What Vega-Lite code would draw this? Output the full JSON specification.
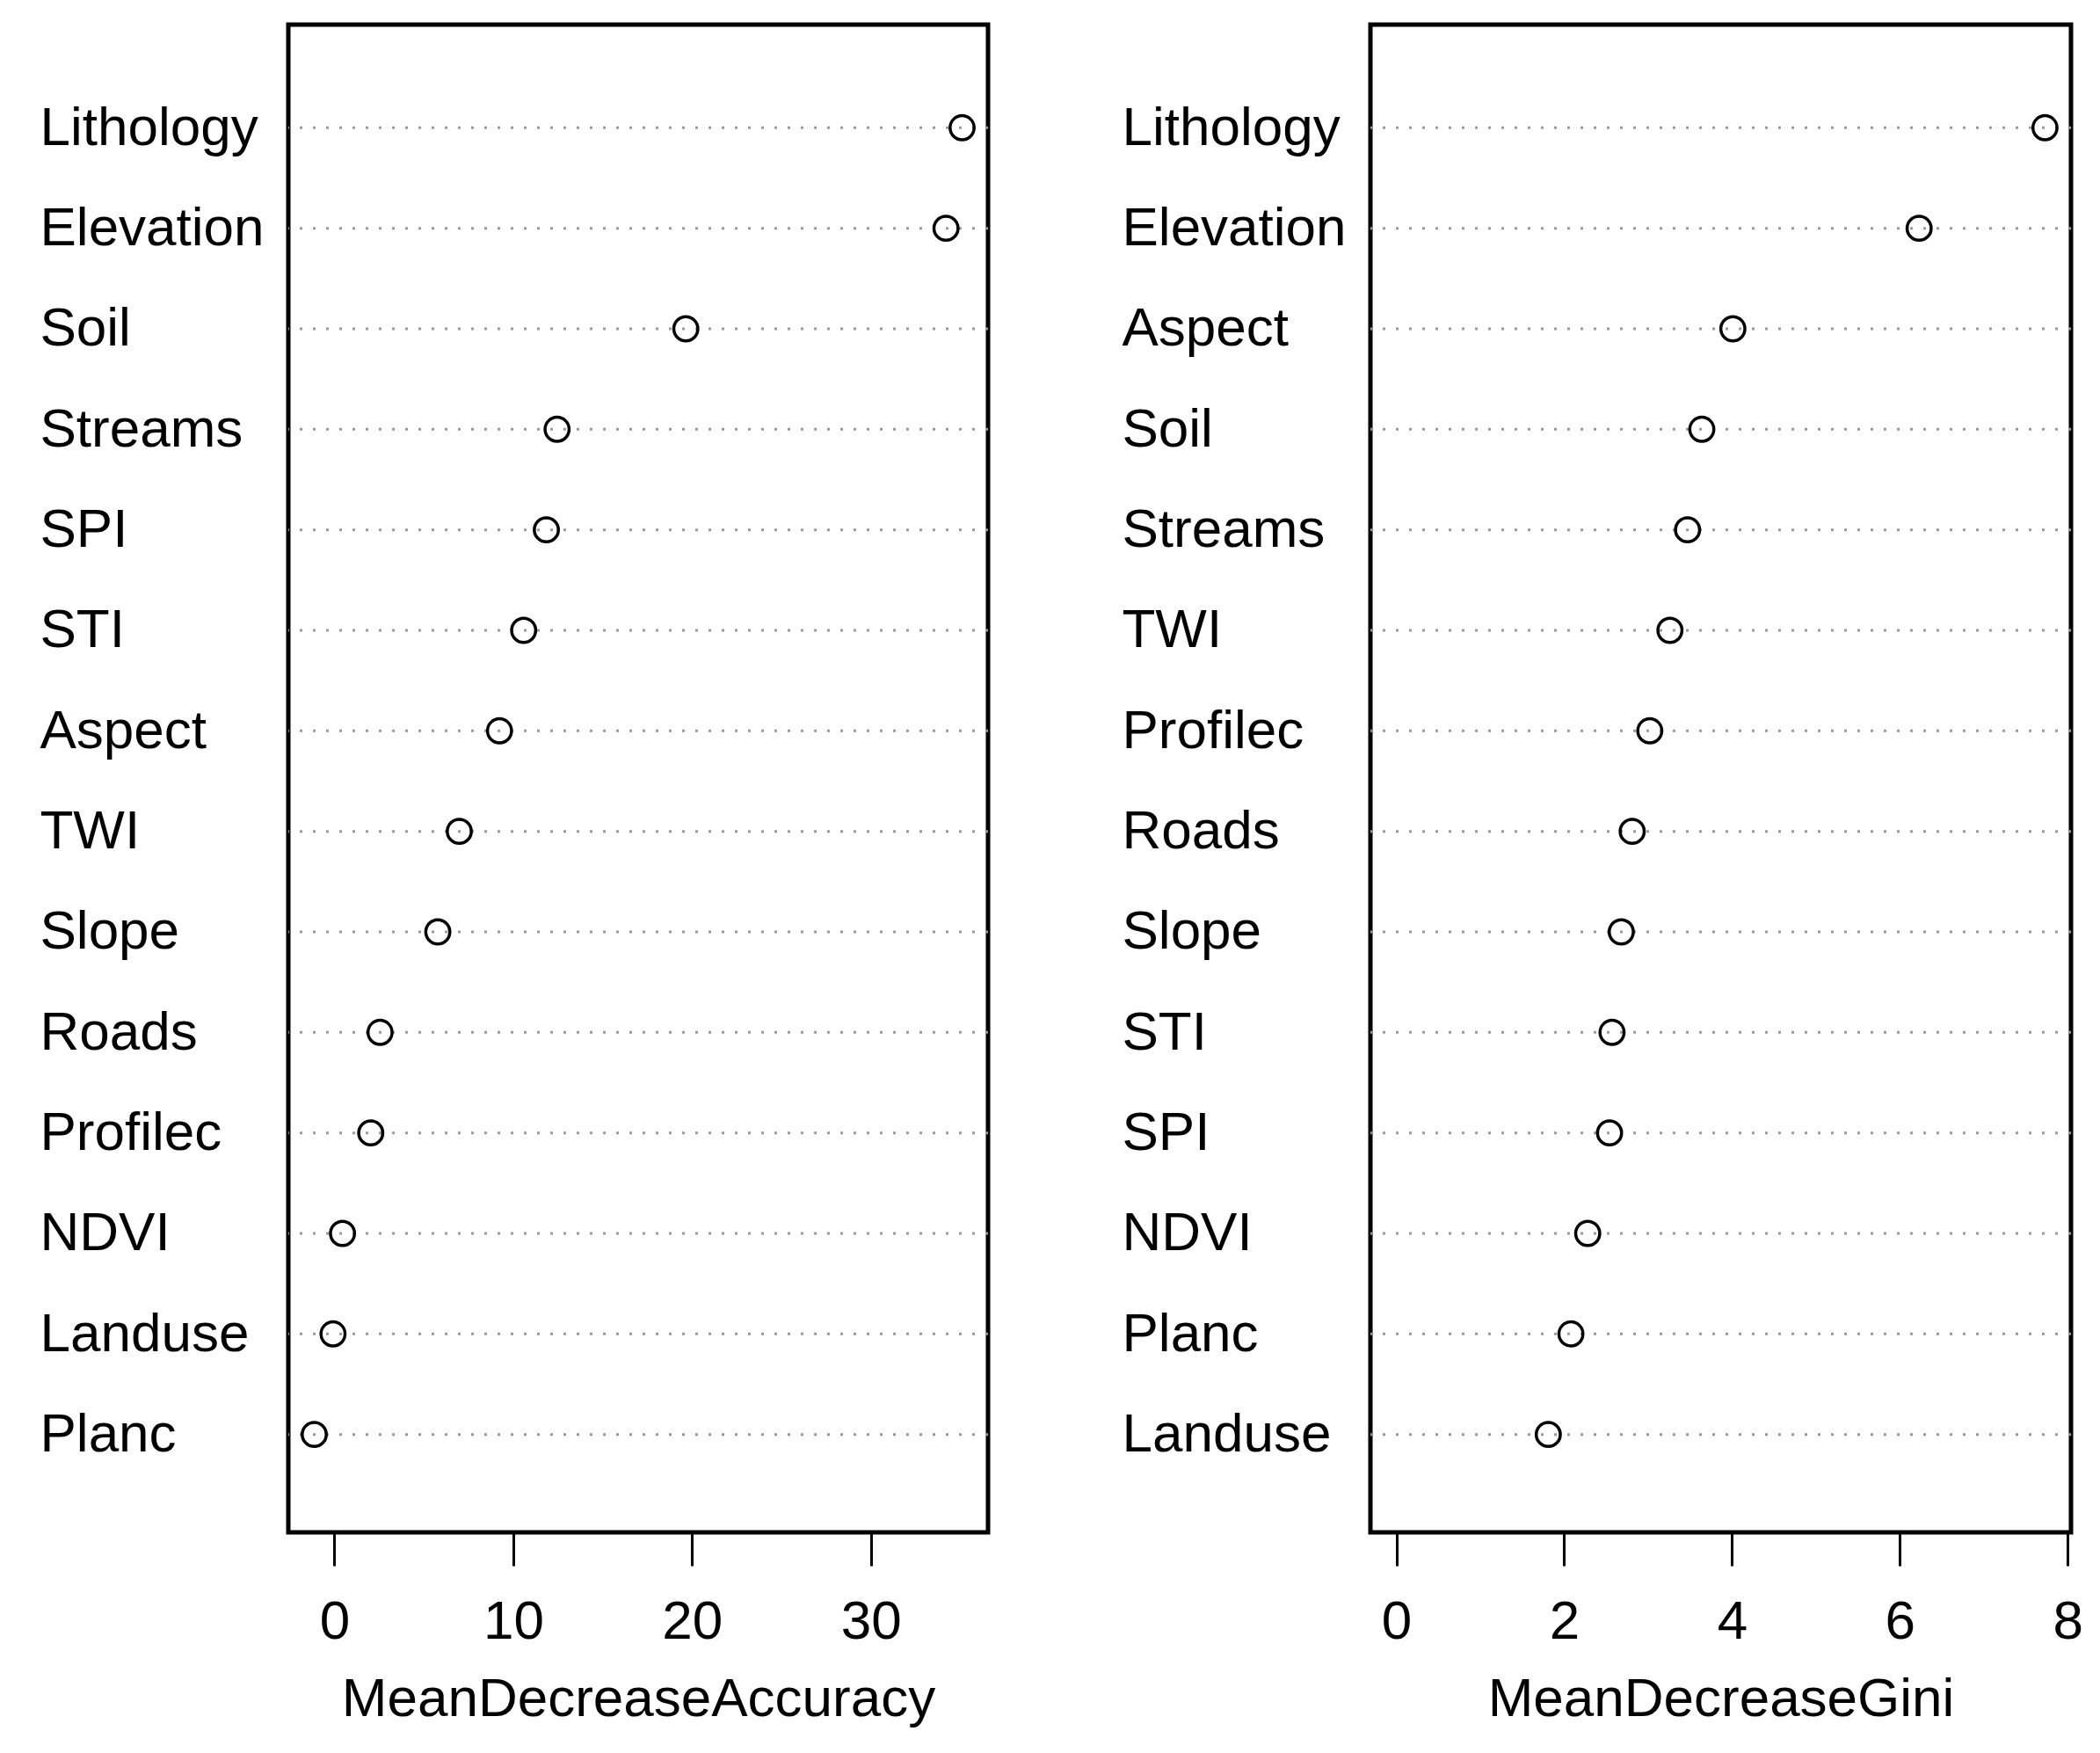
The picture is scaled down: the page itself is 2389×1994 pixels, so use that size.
{
  "$schema": "https://vega.github.io/schema/vega-lite/v6.json",
  "background": "white",
  "padding": {"left": 42, "top": 25, "right": 10, "bottom": 10},
  "data": {"values": [
    {"variable": "Lithology", "accuracy": 35.1, "gini": 7.73},
    {"variable": "Elevation", "accuracy": 34.2, "gini": 6.23},
    {"variable": "Soil", "accuracy": 19.65, "gini": 3.64},
    {"variable": "Streams", "accuracy": 12.45, "gini": 3.47},
    {"variable": "SPI", "accuracy": 11.85, "gini": 2.54},
    {"variable": "STI", "accuracy": 10.58, "gini": 2.57},
    {"variable": "Aspect", "accuracy": 9.23, "gini": 4.01},
    {"variable": "TWI", "accuracy": 6.98, "gini": 3.26},
    {"variable": "Slope", "accuracy": 5.78, "gini": 2.68},
    {"variable": "Roads", "accuracy": 2.55, "gini": 2.81},
    {"variable": "Profilec", "accuracy": 2.03, "gini": 3.02},
    {"variable": "NDVI", "accuracy": 0.45, "gini": 2.28},
    {"variable": "Landuse", "accuracy": -0.08, "gini": 1.81},
    {"variable": "Planc", "accuracy": -1.13, "gini": 2.08}
  ]},
  "config": {
    "view": {"stroke": "black", "strokeWidth": 5},
    "font": "Liberation Sans",
    "axis": {
      "labelFont": "Liberation Sans", "titleFont": "Liberation Sans",
      "labelColor": "black", "titleColor": "black",
      "titleFontWeight": "normal", "labelFontSize": 62, "titleFontSize": 62,
      "grid": false, "labelLimit": 0
    }
  },
  "spacing": 145,
  "hconcat": [
    {
      "width": 796, "height": 1715,
      "encoding": {
        "y": {"field": "variable", "type": "nominal",
          "sort": {"field": "accuracy", "op": "max", "order": "descending"},
          "scale": {"type": "point", "padding": 1, "align": 0.513},
          "axis": {"title": null, "domain": false, "ticks": false, "tickSize": 0,
            "labelAlign": "left", "labelPadding": 283, "labelBaseline": "middle"}}
      },
      "layer": [
        {"mark": {"type": "rule", "color": "#9a9a9a", "strokeWidth": 3, "strokeDash": [3, 12]}, "encoding": {}},
        {"mark": {"type": "point", "shape": "circle", "filled": false, "color": "black", "strokeWidth": 3.5, "size": 750, "opacity": 1},
          "encoding": {
            "x": {"field": "accuracy", "type": "quantitative",
              "scale": {"domain": [-2.58, 36.55], "nice": false, "zero": false},
              "axis": {"title": "MeanDecreaseAccuracy", "values": [0, 10, 20, 30], "domain": false,
                "tickSize": 38, "tickWidth": 3, "tickColor": "black", "labelPadding": 33,
                "titlePadding": 27, "labelFlush": false}}
          }}
      ]
    },
    {
      "width": 797, "height": 1715,
      "encoding": {
        "y": {"field": "variable", "type": "nominal",
          "sort": {"field": "gini", "op": "max", "order": "descending"},
          "scale": {"type": "point", "padding": 1, "align": 0.513},
          "axis": {"title": null, "domain": false, "ticks": false, "tickSize": 0,
            "labelAlign": "left", "labelPadding": 283, "labelBaseline": "middle"}}
      },
      "layer": [
        {"mark": {"type": "rule", "color": "#9a9a9a", "strokeWidth": 3, "strokeDash": [3, 12]}, "encoding": {}},
        {"mark": {"type": "point", "shape": "circle", "filled": false, "color": "black", "strokeWidth": 3.5, "size": 750, "opacity": 1},
          "encoding": {
            "x": {"field": "gini", "type": "quantitative",
              "scale": {"domain": [-0.31, 8.04], "nice": false, "zero": false},
              "axis": {"title": "MeanDecreaseGini", "values": [0, 2, 4, 6, 8], "domain": false,
                "tickSize": 38, "tickWidth": 3, "tickColor": "black", "labelPadding": 33,
                "titlePadding": 27, "labelFlush": false}}
          }}
      ]
    }
  ],
  "resolve": {"scale": {"y": "independent"}}
}
